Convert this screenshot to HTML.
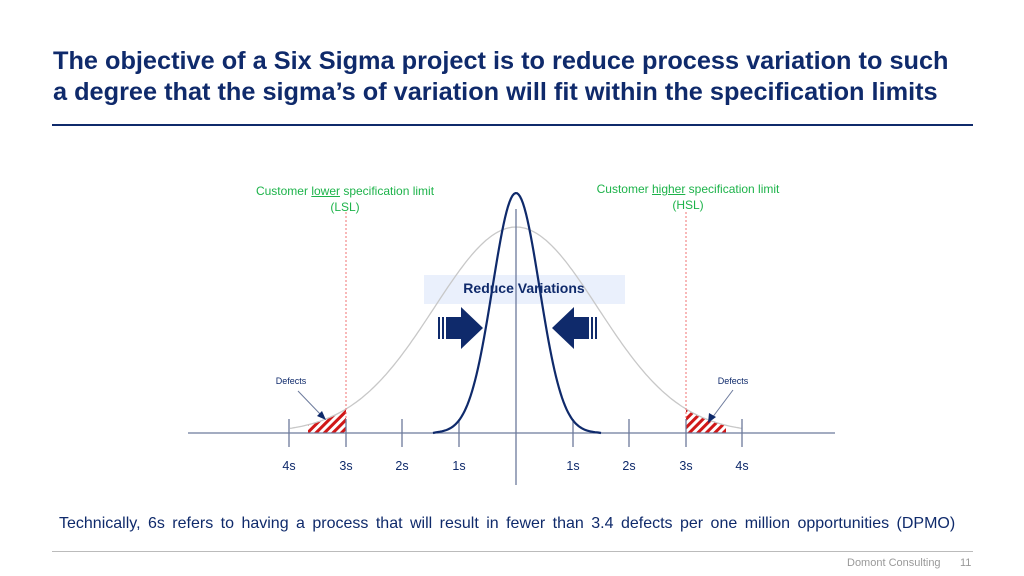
<!DOCTYPE html>
<html><head><meta charset="utf-8"><style>
body{margin:0;width:1024px;height:576px;background:#fff;font-family:"Liberation Sans",sans-serif;position:relative;overflow:hidden}
.t{position:absolute;left:53px;top:46px;font-size:25.3px;font-weight:bold;color:#0f2a6b;line-height:31px;white-space:nowrap}
.g{color:#1db34a;font-size:12px;position:absolute;text-align:center;line-height:16px}
.n{position:absolute;font-size:12.5px;color:#0f2a6b}
</style></head><body>
<div class="t">The objective of a Six Sigma project is to reduce process variation to such<br>a degree that the sigma’s of variation will fit within the specification limits</div>
<div style="position:absolute;left:52px;top:124px;width:921px;height:2px;background:#0f2a6b"></div>
<div class="g" style="left:240px;top:183px;width:210px">Customer <u>lower</u> specification limit<br>(LSL)</div>
<div class="g" style="left:583px;top:181px;width:210px">Customer <u>higher</u> specification limit<br>(HSL)</div>
<svg width="1024" height="576" style="position:absolute;left:0;top:0">
<defs><pattern id="h" width="6" height="6" patternUnits="userSpaceOnUse" patternTransform="rotate(45)"><rect width="3" height="6" fill="#d01818"/></pattern></defs>
<rect x="424" y="275" width="201" height="29" fill="#eaf0fc"/>
<path id="hl" fill="url(#h)"/><path id="hr" fill="url(#h)"/>
<path id="wide" fill="none" stroke="#c8c8c8" stroke-width="1.3"/>
<line x1="346" y1="212" x2="346" y2="433" stroke="#f07070" stroke-dasharray="2,2"/>
<line x1="686" y1="212" x2="686" y2="433" stroke="#f07070" stroke-dasharray="2,2"/>
<line x1="188" y1="433" x2="835" y2="433" stroke="#6c7a9c" stroke-width="1.3"/>
<line x1="516" y1="209" x2="516" y2="485" stroke="#6c7a9c" stroke-width="1.3"/>
<g stroke="#6c7a9c" stroke-width="1.3">
<line x1="289" y1="419" x2="289" y2="447"/><line x1="346" y1="419" x2="346" y2="447"/><line x1="402" y1="419" x2="402" y2="447"/><line x1="459" y1="419" x2="459" y2="447"/>
<line x1="573" y1="419" x2="573" y2="447"/><line x1="629" y1="419" x2="629" y2="447"/><line x1="686" y1="419" x2="686" y2="447"/><line x1="742" y1="419" x2="742" y2="447"/></g>
<path id="nar" fill="none" stroke="#0f2a6b" stroke-width="2.2"/>
<g font-size="12.5" fill="#0f2a6b" text-anchor="middle">
<text x="289" y="470">4s</text><text x="346" y="470">3s</text><text x="402" y="470">2s</text><text x="459" y="470">1s</text>
<text x="573" y="470">1s</text><text x="629" y="470">2s</text><text x="686" y="470">3s</text><text x="742" y="470">4s</text></g>
<text x="524" y="293" font-size="14" font-weight="bold" fill="#0f2a6b" text-anchor="middle">Reduce Variations</text>
<g fill="#0f2a6b">
<rect x="438" y="317" width="2" height="22"/><rect x="442" y="317" width="2" height="22"/><rect x="446" y="317" width="16" height="22"/><polygon points="461,307 483,328 461,349"/>
<rect x="595" y="317" width="2" height="22"/><rect x="591" y="317" width="2" height="22"/><rect x="573" y="317" width="16" height="22"/><polygon points="574,307 552,328 574,349"/>
</g>
<text x="291" y="384" font-size="9" fill="#0f2a6b" text-anchor="middle">Defects</text>
<text x="733" y="384" font-size="9" fill="#0f2a6b" text-anchor="middle">Defects</text>
<line x1="298" y1="391" x2="322" y2="416" stroke="#6c7a9c"/><polygon points="326,420 317,416 322,411" fill="#0f2a6b"/>
<line x1="733" y1="390" x2="712" y2="418" stroke="#6c7a9c"/><polygon points="708,423 709,413 716,417" fill="#0f2a6b"/>
</svg>
<div class="n" style="left:59px;top:515px;font-size:16px;color:#0f2a6b;word-spacing:3px;white-space:nowrap">Technically, 6s refers to having a process that will result in fewer than 3.4 defects per one million opportunities (DPMO)</div>
<div style="position:absolute;left:52px;top:551px;width:921px;height:1px;background:#bbb"></div>
<div style="position:absolute;left:847px;top:557px;font-size:11px;color:#999">Domont Consulting</div>
<div style="position:absolute;left:960px;top:557px;font-size:11px;color:#999">11</div>
<script>
function g(c,s,h,x){return 433-h*Math.exp(-(x-c)*(x-c)/(2*s*s));}
var d="";for(var x=290;x<=742;x+=2){d+=(x==290?"M":"L")+x+","+g(516,82,206,x).toFixed(1);}
document.getElementById("wide").setAttribute("d",d);
d="M433,433";for(var x=436;x<=598;x+=1.5){d+="L"+x+","+g(516,23.5,240,x).toFixed(1);}d+="L601,433";
document.getElementById("nar").setAttribute("d",d);
d="M308,433";for(var x=308;x<=346;x+=1){d+="L"+x+","+g(516,82,206,x).toFixed(1);}d+="L346,433Z";
document.getElementById("hl").setAttribute("d",d);
d="M686,433";for(var x=686;x<=726;x+=1){d+="L"+x+","+g(516,82,206,x).toFixed(1);}d+="L726,433Z";
document.getElementById("hr").setAttribute("d",d);
</script>
</body></html>
